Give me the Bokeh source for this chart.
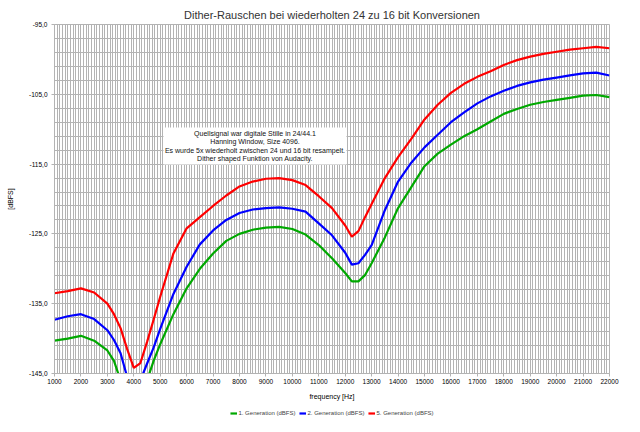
from bokeh.plotting import figure
from bokeh.layouts import column
from bokeh.models import (Range1d, FixedTicker, Legend, LegendItem, BoxAnnotation,
                          Label, Title)
from bokeh.embed import file_html
from bokeh.resources import INLINE

# ---- data ----
freq = [1000, 1500, 2000, 2500, 3000, 3250, 3500, 3750, 4000, 4250, 4500, 4750,
        5000, 5500, 6000, 6500, 7000, 7500, 8000, 8500, 9000, 9500, 10000, 10500,
        11000, 11500, 12000, 12250, 12500, 12750, 13000, 13500, 14000, 14500,
        15000, 15500, 16000, 16500, 17000, 17500, 18000, 18500, 19000, 19500,
        20000, 20500, 21000, 21500, 22000]

gen1 = [-140.3, -140.0, -139.6, -140.3, -141.7, -143.2, -146.0, -148.5, -150.0,
        -148.5, -146.0, -143.2, -140.8, -136.5, -132.8, -130.0, -127.8, -126.0,
        -125.0, -124.4, -124.1, -124.0, -124.3, -125.1, -126.6, -128.5, -130.6,
        -131.8, -131.8, -130.9, -129.2, -125.5, -121.3, -118.3, -115.3, -113.5,
        -112.2, -111.0, -110.0, -108.9, -107.8, -107.1, -106.5, -106.1, -105.8,
        -105.5, -105.2, -105.1, -105.4]

gen2 = [-137.3, -136.8, -136.5, -137.2, -138.8, -140.2, -142.1, -145.5, -147.5,
        -146.0, -143.6, -141.3, -138.6, -133.6, -129.7, -126.5, -124.5, -123.0,
        -122.0, -121.5, -121.3, -121.2, -121.4, -121.8, -123.5, -125.2, -127.7,
        -129.4, -129.2, -128.0, -126.6, -121.6, -117.5, -114.8, -112.6, -110.8,
        -109.0, -107.6, -106.3, -105.3, -104.5, -103.8, -103.3, -102.9, -102.6,
        -102.3, -102.0, -101.9, -102.3]

gen5 = [-133.5, -133.2, -132.8, -133.4, -135.0, -136.5, -138.5, -141.5, -144.2,
        -143.5, -140.5, -137.3, -134.0, -127.8, -124.2, -122.6, -121.0, -119.5,
        -118.2, -117.5, -117.1, -117.0, -117.3, -118.0, -119.6, -121.3, -123.8,
        -125.4, -124.6, -122.6, -120.7, -117.0, -114.0, -111.4, -108.6, -106.5,
        -104.8, -103.5, -102.5, -101.7, -100.8, -100.1, -99.6, -99.2, -98.9,
        -98.6, -98.4, -98.2, -98.4]

series_names = ["1. Generation (dBFS)", "2. Generation (dBFS)", "5. Generation (dBFS)"]
series_colors = ["#00a800", "#0000ff", "#ff0000"]

x_ticks = list(range(1000, 22001, 1000))
x_minor = list(range(1000, 22001, 100))
y_ticks = [-145, -135, -125, -115, -105, -95]
y_minor = list(range(-145, -94, 2))
y_labels = {t: f"{t},0" for t in y_ticks}

note_lines = ["Quellsignal war digitale Stille in 24/44.1",
              "Hanning Window, Size 4096.",
              "Es wurde 5x wiederholt zwischen 24 und 16 bit resampelt.",
              "Dither shaped Funktion von Audacity."]

FONT = "Liberation Sans"

p = figure(width=624, height=404, output_backend="svg", toolbar_location=None,
           x_range=Range1d(1000, 22000), y_range=Range1d(-145, -95),
           min_border_left=54, min_border_right=15, min_border_top=24,
           min_border_bottom=31)
p.title = Title(text="Dither-Rauschen bei wiederholten 24 zu 16 bit Konversionen",
                align="center", text_font=FONT, text_font_size="11px",
                text_font_style="normal", text_color="#333333", standoff=8)

p.background_fill_color = "white"
p.border_fill_color = "white"
p.outline_line_color = "#b3b3b3"

# axes
p.xaxis.ticker = FixedTicker(ticks=x_ticks, minor_ticks=x_minor)
p.yaxis.ticker = FixedTicker(ticks=y_ticks, minor_ticks=y_minor)
p.yaxis.major_label_overrides = y_labels
for ax in (p.xaxis[0], p.yaxis[0]):
    ax.axis_line_color = "#b3b3b3"
    ax.major_tick_line_color = "#b3b3b3"
    ax.minor_tick_line_color = None
    ax.major_tick_out = 3
    ax.major_tick_in = 0
    ax.major_label_text_font = FONT
    ax.major_label_text_font_size = "6.5px"
    ax.major_label_text_color = "#000000"
    ax.axis_label_text_font = FONT
    ax.axis_label_text_font_size = "7px"
    ax.axis_label_text_font_style = "normal"
    ax.axis_label_text_color = "#000000"
p.xaxis.axis_label = "frequency [Hz]"
p.yaxis.axis_label = "[dBFS]"
p.xaxis.major_label_standoff = 1
p.xaxis.axis_label_standoff = 6
p.yaxis.major_label_standoff = 3
p.yaxis.axis_label_standoff = 12

# grid
for g in (p.xgrid[0], p.ygrid[0]):
    g.grid_line_color = "#b3b3b3"
    g.grid_line_width = 1
    g.minor_grid_line_color = "#b3b3b3"
    g.minor_grid_line_width = 1

# note box
p.add_layout(BoxAnnotation(left=5124, right=12048, top=-109.75, bottom=-115.05,
                           fill_color="white", fill_alpha=1.0, line_color=None,
                           level="underlay"))
note_y = [-110.6, -111.8, -113.05, -114.2]
for txt, yy in zip(note_lines, note_y):
    p.add_layout(Label(x=8586, y=yy, text=txt, text_align="center",
                       text_baseline="middle", text_font=FONT,
                       text_font_size="7px", text_color="#111111"))

# lines
all_series = [gen1, gen2, gen5]
for ys, col in zip(all_series, series_colors):
    p.line(freq, ys, line_color=col, line_width=2.2)

# legend strip below the chart (its own copies of the lines sit outside its view)
lg = figure(width=624, height=18, output_backend="svg", toolbar_location=None,
            x_range=Range1d(0, 1), y_range=Range1d(0, 1),
            x_axis_location=None, y_axis_location=None,
            min_border_left=0, min_border_right=0, min_border_top=0, min_border_bottom=0)
lg.grid.visible = False
lg.outline_line_color = None
lg.border_fill_color = "white"
lg.background_fill_color = "white"
lg_renderers = [lg.line(freq, ys, line_color=c, line_width=2.2)
                for ys, c in zip(all_series, series_colors)]
legend = Legend(items=[LegendItem(label=n, renderers=[r]) for n, r in zip(series_names, lg_renderers)],
                orientation="horizontal", location="center",
                label_text_font=FONT, label_text_font_size="6px",
                glyph_width=7, glyph_height=8, label_height=8, label_standoff=2,
                spacing=3, padding=0, margin=0, border_line_color=None,
                background_fill_alpha=0)
lg.add_layout(legend, "center")

open("out.html", "w").write(file_html(column(p, lg, spacing=0), INLINE))
